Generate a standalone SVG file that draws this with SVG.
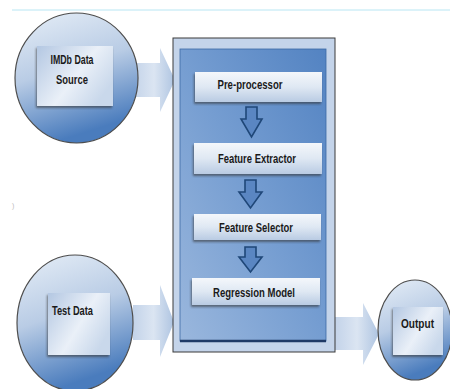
<svg xmlns="http://www.w3.org/2000/svg" width="450" height="389" viewBox="0 0 450 389">
<defs>
<linearGradient id="gCircle" x1="0" y1="0" x2="0.3" y2="1">
<stop offset="0" stop-color="#e6eef7"/>
<stop offset="0.5" stop-color="#b9cce5"/>
<stop offset="1" stop-color="#4a7cbd"/>
</linearGradient>
<linearGradient id="gInner" x1="0" y1="0" x2="1" y2="0.6">
<stop offset="0" stop-color="#b3c7e2"/>
<stop offset="0.6" stop-color="#eaf0f8"/>
<stop offset="1" stop-color="#c9d8eb"/>
</linearGradient>
<linearGradient id="gProc" x1="0" y1="0" x2="0" y2="1">
<stop offset="0" stop-color="#f4f7fb"/>
<stop offset="0.5" stop-color="#dfe8f3"/>
<stop offset="1" stop-color="#b9cbe3"/>
</linearGradient>
<linearGradient id="gBigArrow" x1="0" y1="0" x2="1" y2="0">
<stop offset="0" stop-color="#c3d3e9"/>
<stop offset="0.5" stop-color="#dbe5f2"/>
<stop offset="1" stop-color="#aec4e1"/>
</linearGradient>
<linearGradient id="gMainInner" x1="1" y1="0" x2="0" y2="1">
<stop offset="0" stop-color="#5383c2"/>
<stop offset="0.5" stop-color="#759dd1"/>
<stop offset="1" stop-color="#9ab7dd"/>
</linearGradient>
<filter id="sh" x="-10%" y="-10%" width="130%" height="140%">
<feDropShadow dx="-1" dy="2" stdDeviation="0.8" flood-color="#333" flood-opacity="0.6"/>
</filter>
</defs>
<style>
.circle{fill:url(#gCircle);stroke:#4d4d4d;stroke-width:1.2}
.inner{fill:url(#gInner);filter:url(#sh)}
.proc{fill:url(#gProc);filter:url(#sh)}
.big{fill:url(#gBigArrow)}
.small{fill:#5a86c2;stroke:#1f4778;stroke-width:1.6;stroke-linejoin:miter}
.lbl{font-family:"Liberation Sans",Arial,sans-serif;font-weight:bold;font-size:13px;fill:#1a1a1a;text-anchor:middle}
</style>
<line x1="12" y1="10" x2="450" y2="10" stroke="#b8e6f3" stroke-width="1"/>
<text x="12" y="208" font-family="Liberation Sans,sans-serif" font-size="7" fill="#bbb">)</text>

<g id="connectors">
<polygon class="big" points="133,63 160,63 160,48 175,80 160,112 160,97 133,97"/>
<polygon class="big" points="133,305 160,305 160,285 174,322 160,357 160,340 133,340"/>
<polygon class="big" points="335,317 363,317 363,303 379,334 363,365 363,350 335,350"/>
</g>

<g id="imdb">
<ellipse class="circle" cx="76.5" cy="78" rx="61.5" ry="65"/>
<rect class="inner" x="37" y="46" width="76" height="60"/>
<text class="lbl" x="72" y="64" textLength="43" lengthAdjust="spacingAndGlyphs">IMDb Data</text>
<text class="lbl" x="72" y="84" textLength="32" lengthAdjust="spacingAndGlyphs">Source</text>
</g>

<g id="testdata">
<ellipse class="circle" cx="75" cy="323" rx="58" ry="68"/>
<rect class="inner" x="48" y="293" width="62" height="62"/>
<text class="lbl" x="72.5" y="315" textLength="41" lengthAdjust="spacingAndGlyphs">Test Data</text>
</g>

<g id="system">
<rect x="173" y="38" width="162" height="314" fill="#c4d4ea" stroke="#3a3a3a" stroke-width="1"/>
<rect x="180" y="49" width="146" height="292" fill="url(#gMainInner)" stroke="#3d6aa6" stroke-width="0.8"/>
<line x1="180" y1="341" x2="326" y2="341" stroke="#1f3a66" stroke-width="2.5"/>
</g>

<g id="preprocessor">
<rect class="proc" x="195" y="72" width="127" height="30"/>
<text class="lbl" x="250" y="89" textLength="65" lengthAdjust="spacingAndGlyphs">Pre-processor</text>
</g>
<g id="featureextractor">
<rect class="proc" x="194" y="143" width="128" height="31"/>
<text class="lbl" x="257" y="163" textLength="78" lengthAdjust="spacingAndGlyphs">Feature Extractor</text>
</g>
<g id="featureselector">
<rect class="proc" x="194" y="214" width="127" height="26"/>
<text class="lbl" x="256" y="232" textLength="74" lengthAdjust="spacingAndGlyphs">Feature Selector</text>
</g>
<g id="regression">
<rect class="proc" x="192" y="278" width="128" height="27"/>
<text class="lbl" x="254" y="297" textLength="82" lengthAdjust="spacingAndGlyphs">Regression Model</text>
</g>

<g id="inner-arrows">
<polygon class="small" points="246,107 257,107 257,119 262,119 251.5,137 241,119 246,119"/>
<polygon class="small" points="245,180 256,180 256,192 262,192 250.5,208 239,192 245,192"/>
<polygon class="small" points="245,247 256,247 256,257 262,257 250.5,272 239,257 245,257"/>
</g>

<g id="output">
<ellipse class="circle" cx="415" cy="330" rx="37" ry="50"/>
<rect class="inner" x="393" y="307" width="50" height="48"/>
<text class="lbl" x="417.5" y="328" textLength="33" lengthAdjust="spacingAndGlyphs">Output</text>
</g>
</svg>
